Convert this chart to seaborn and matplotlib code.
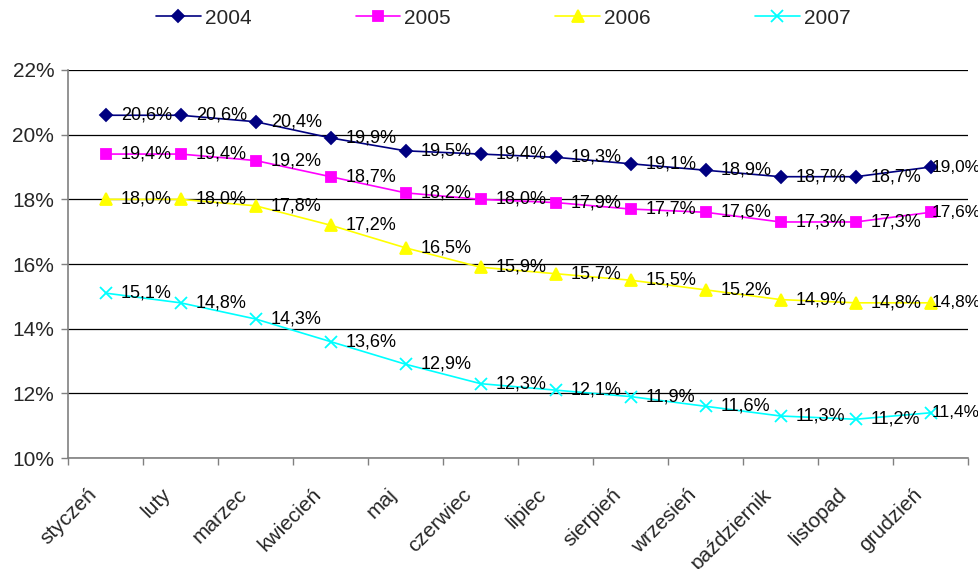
import pandas as pd
import seaborn as sns
import matplotlib.pyplot as plt
from matplotlib.transforms import ScaledTranslation

# months (Polish) and monthly values in percent
months = ['styczeń', 'luty', 'marzec', 'kwiecień', 'maj', 'czerwiec', 'lipiec',
          'sierpień', 'wrzesień', 'październik', 'listopad', 'grudzień']
years = ['2004', '2005', '2006', '2007']
v2004 = [20.6, 20.6, 20.4, 19.9, 19.5, 19.4, 19.3, 19.1, 18.9, 18.7, 18.7, 19.0]
v2005 = [19.4, 19.4, 19.2, 18.7, 18.2, 18.0, 17.9, 17.7, 17.6, 17.3, 17.3, 17.6]
v2006 = [18.0, 18.0, 17.8, 17.2, 16.5, 15.9, 15.7, 15.5, 15.2, 14.9, 14.8, 14.8]
v2007 = [15.1, 14.8, 14.3, 13.6, 12.9, 12.3, 12.1, 11.9, 11.6, 11.3, 11.2, 11.4]
y_ticks = [10, 12, 14, 16, 18, 20, 22]

series = {'2004': v2004, '2005': v2005, '2006': v2006, '2007': v2007}
colors = {'2004': '#000080', '2005': '#FF00FF', '2006': '#FFFF00', '2007': '#00FFFF'}
markers = {'2004': 'D', '2005': 's', '2006': '^', '2007': 'x'}
msizes = {'2004': 6, '2005': 7, '2006': 8, '2007': 8}

# long-form table for seaborn
rows = []
for y in years:
    for i, v in enumerate(series[y]):
        rows.append({'idx': i, 'month': months[i], 'year': y, 'value': v})
df = pd.DataFrame(rows)

sns.set_theme(style='white')
plt.rcParams['font.family'] = ['Liberation Sans', 'DejaVu Sans']

fig = plt.figure(figsize=(9.79, 5.69), dpi=100)
ax = fig.add_axes([0.0695, 0.195, 0.9195, 0.682])

last = len(months) - 1
for y in years:
    d = df[df['year'] == y]
    sns.lineplot(data=d, x='idx', y='value', ax=ax, color=colors[y],
                 marker=markers[y], markersize=msizes[y], markeredgecolor=colors[y],
                 markeredgewidth=1.3, linewidth=1.2, label=y, zorder=3)
    for i, v in zip(d['idx'], d['value']):
        # last label squeezed next to its marker so it fits in the figure
        dx, fs = (0.5, 12.4) if i == last else (11, 13)
        ax.annotate(f'{v:.1f}%'.replace('.', ','), (i, v), xytext=(dx, 0),
                    textcoords='offset points', va='center', ha='left',
                    fontsize=fs, color='black', annotation_clip=False, zorder=4)

ax.set_xlim(-0.5, 11.5)
ax.set_ylim(10, 22)
ax.set_yticks(y_ticks)
ax.set_yticklabels([f'{t}%' for t in y_ticks], fontsize=15)
ax.yaxis.grid(True, color='black', linewidth=0.9)
ax.set_axisbelow(True)

# labels at category centres, tick marks at category boundaries
ax.set_xticks(range(len(months)))
ax.set_xticklabels(months, rotation=45, ha='right', va='center',
                   rotation_mode='anchor', fontsize=15)
ax.set_xticks([i - 0.5 for i in range(len(months) + 1)], minor=True)
ax.tick_params(axis='x', which='major', length=0, pad=24)
ax.tick_params(axis='x', which='minor', length=5, width=1, color='#808080', bottom=True)
ax.tick_params(axis='y', length=5, width=1, color='#808080', left=True, pad=5)
shift = ScaledTranslation(-12 / 100, 0, fig.dpi_scale_trans)
for lab in ax.get_xticklabels():
    lab.set_transform(lab.get_transform() + shift)

for s in ['top', 'right']:
    ax.spines[s].set_visible(False)
for s in ['left', 'bottom']:
    ax.spines[s].set_color('#808080')
    ax.spines[s].set_linewidth(1.2)

ax.set_xlabel('')
ax.set_ylabel('')

handles, labels = ax.get_legend_handles_labels()
ax.legend_.remove()
fig.legend(handles, labels, loc='center', bbox_to_anchor=(0.514, 1 - 18 / 569), ncol=4,
           frameon=False, fontsize=15, handlelength=2.15, handletextpad=0.2,
           columnspacing=5.0, borderpad=0)

plt.savefig('out.png', dpi=100)
